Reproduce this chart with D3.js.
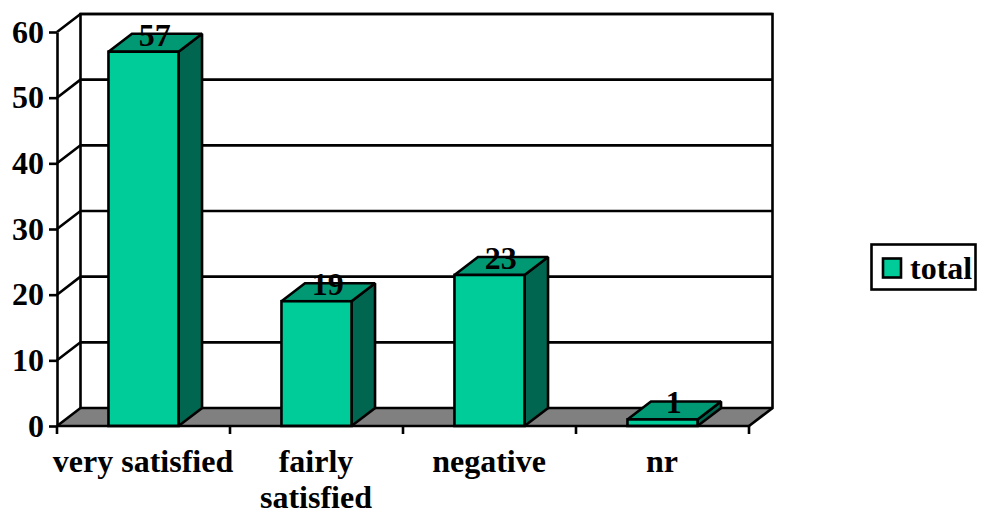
<!DOCTYPE html>
<html>
<head>
<meta charset="utf-8">
<script src="https://cdn.jsdelivr.net/npm/d3@7"></script>
<style>
    html, body { margin: 0; padding: 0; background: #fff; }
    svg { display: block; }
    text { font-family: "Liberation Serif", serif; font-weight: bold; fill: #000; }
</style>
</head>
<body>
<script>
const categories = ["very satisfied", "fairly\nsatisfied", "negative", "nr"];
const totals = [57, 19, 23, 1];
const yTicks = [0, 10, 20, 30, 40, 50, 60];
const seriesName = "total";

const width = 981;
const height = 515;
const depthX = 23.5;
const depthY = 18;
const lineW = 2.6;
const fontSize = 32;

const svg = d3.select("body").append("svg")
    .attr("width", width)
    .attr("height", height);

// Scales
const x = d3.scaleBand()
    .domain(categories)
    .range([57, 749])
    .paddingInner(0.595)
    .paddingOuter(0.2975);

const y = d3.scaleLinear()
    .domain([0, 60])
    .range([426, 32]);

const x0 = x.range()[0];
const x1 = x.range()[1];
const pts = (arr) => arr.map((p) => p.join(",")).join(" ");

// Floor
svg.append("polygon")
    .attr("points", pts([[x0, y(0)], [x0 + depthX, y(0) - depthY], [x1 + depthX, y(0) - depthY], [x1, y(0)]]))
    .attr("fill", "#808080");

// Walls and gridlines
const grid = svg.append("g")
    .attr("fill", "none")
    .attr("stroke", "#000")
    .attr("stroke-width", lineW);

grid.selectAll(".wall").data(yTicks).enter().append("polyline")
    .attr("class", "wall")
    .attr("points", (d) => pts([[x0, y(d)], [x0 + depthX, y(d) - depthY], [x1 + depthX, y(d) - depthY]]));

grid.append("polyline")
    .attr("points", pts([[x0 + depthX, y(0) - depthY], [x0 + depthX, y(60) - depthY], [x1 + depthX, y(60) - depthY], [x1 + depthX, y(0) - depthY], [x1, y(0)]]));

// Bars
const bars = svg.selectAll(".bar").data(categories.map((c, i) => ({cat: c, value: totals[i]})))
    .enter().append("g")
    .attr("class", "bar")
    .attr("stroke", "#000")
    .attr("stroke-width", lineW)
    .attr("stroke-linejoin", "miter")
    .attr("stroke-miterlimit", 1.5);

bars.append("polygon")
    .attr("fill", "#006650")
    .attr("points", (d) => {
        const r = x(d.cat) + x.bandwidth();
        return pts([[r, y(d.value)], [r + depthX, y(d.value) - depthY], [r + depthX, y(0) - depthY], [r, y(0)]]);
    });

bars.append("polygon")
    .attr("fill", "#009973")
    .attr("points", (d) => {
        const l = x(d.cat);
        const r = l + x.bandwidth();
        return pts([[l, y(d.value)], [l + depthX, y(d.value) - depthY], [r + depthX, y(d.value) - depthY], [r, y(d.value)]]);
    });

bars.append("rect")
    .attr("fill", "#00CC99")
    .attr("x", (d) => x(d.cat))
    .attr("y", (d) => y(d.value))
    .attr("width", x.bandwidth())
    .attr("height", (d) => y(0) - y(d.value));

// Left axis
const yAxis = svg.append("g")
    .attr("transform", `translate(${x0}, 0)`)
    .call(d3.axisLeft(y).tickValues(yTicks).tickSize(8).tickPadding(5).tickSizeOuter(0));
yAxis.selectAll("path, line").attr("stroke", "#000").attr("stroke-width", lineW);
yAxis.selectAll("text")
    .attr("font-size", fontSize)
    .attr("font-family", null)
    .attr("dy", "0.32em");

// Bottom axis, ticks sit between the bars
const xAxis = svg.append("g")
    .attr("transform", `translate(0, ${y(0)})`);
xAxis.append("line")
    .attr("x1", x0).attr("x2", x1)
    .attr("stroke", "#000").attr("stroke-width", lineW);
const step = x.step();
xAxis.selectAll(".xtick").data(d3.range(categories.length + 1)).enter().append("line")
    .attr("class", "xtick")
    .attr("x1", (i) => x0 + i * step)
    .attr("x2", (i) => x0 + i * step)
    .attr("y1", 0)
    .attr("y2", 8)
    .attr("stroke", "#000")
    .attr("stroke-width", lineW);

// Category labels
const labels = svg.selectAll(".cat-label").data(categories).enter().append("text")
    .attr("class", "cat-label")
    .attr("text-anchor", "middle")
    .attr("font-size", fontSize)
    .attr("y", 472);
labels.selectAll("tspan").data((d) => d.split("\n").map((t) => ({t: t, cat: d}))).enter().append("tspan")
    .attr("x", (d) => x(d.cat) + x.bandwidth() / 2 - 0.5)
    .attr("dy", (d, i) => i === 0 ? 0 : 36)
    .text((d) => d.t);

// Value labels
svg.selectAll(".val-label").data(totals).enter().append("text")
    .attr("class", "val-label")
    .attr("text-anchor", "middle")
    .attr("font-size", fontSize)
    .attr("x", (d, i) => x(categories[i]) + x.bandwidth() / 2 + depthX / 2 - 0.5)
    .attr("y", (d) => y(d) - 6)
    .text((d) => d);

// Legend
const legend = svg.append("g");
legend.append("rect")
    .attr("x", 871.5).attr("y", 244.5).attr("width", 104).attr("height", 45)
    .attr("fill", "#fff").attr("stroke", "#000").attr("stroke-width", lineW);
legend.append("rect")
    .attr("x", 883).attr("y", 258.5).attr("width", 18).attr("height", 19)
    .attr("fill", "#00CC99").attr("stroke", "#000").attr("stroke-width", lineW);
legend.append("text")
    .attr("x", 910).attr("y", 279)
    .attr("font-size", fontSize)
    .text(seriesName);
</script>
</body>
</html>
